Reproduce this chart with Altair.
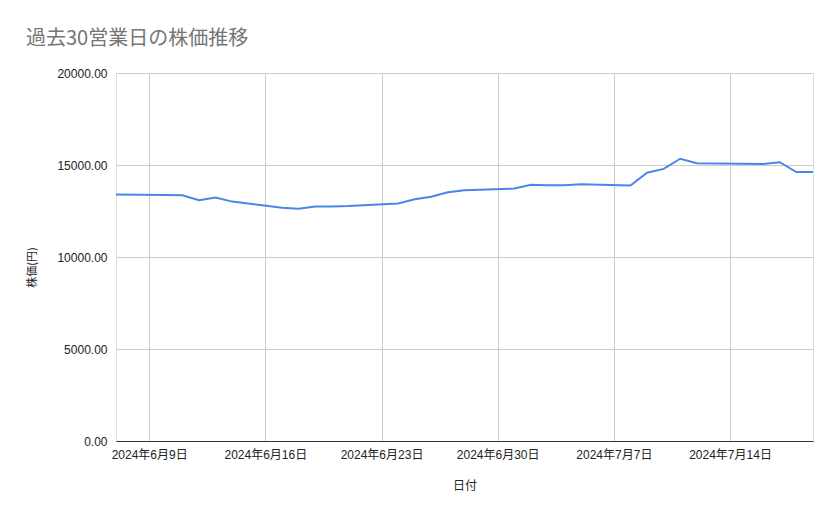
import altair as alt
import pandas as pd

dates = [
    "2024-06-07", "2024-06-10", "2024-06-11", "2024-06-12", "2024-06-13", "2024-06-14",
    "2024-06-17", "2024-06-18", "2024-06-19", "2024-06-20", "2024-06-21",
    "2024-06-24", "2024-06-25", "2024-06-26", "2024-06-27", "2024-06-28",
    "2024-07-01", "2024-07-02", "2024-07-03", "2024-07-04", "2024-07-05",
    "2024-07-08", "2024-07-09", "2024-07-10", "2024-07-11", "2024-07-12",
    "2024-07-16", "2024-07-17", "2024-07-18", "2024-07-19",
]
prices = [
    13390, 13370, 13350, 13090, 13230, 13010,
    12680, 12620, 12740, 12750, 12770,
    12910, 13140, 13280, 13520, 13630,
    13720, 13930, 13900, 13900, 13960,
    13880, 14580, 14790, 15340, 15100,
    15060, 15150, 14620, 14620,
]
tick_days = [(6, 9), (6, 16), (6, 23), (6, 30), (7, 7), (7, 14)]
y_ticks = [0, 5000, 10000, 15000, 20000]

df = pd.DataFrame({"日付": [d + "T00:00:00" for d in dates], "株価": prices})

FONT = "Liberation Sans, 'Noto Sans CJK JP', sans-serif"
CJK = "'Noto Sans CJK JP', sans-serif"

chart = (
    alt.Chart(df)
    .mark_line(color="#4a86e8", strokeWidth=2)
    .encode(
        x=alt.X(
            "日付:T",
            scale=alt.Scale(
                domain=[
                    alt.DateTime(year=2024, month=6, date=7),
                    alt.DateTime(year=2024, month=7, date=19),
                ]
            ),
            axis=alt.Axis(
                title="日付",
                values=[alt.DateTime(year=2024, month=m, date=d) for m, d in tick_days],
                format="%Y年%-m月%-d日",
                formatType="time",
                labelFont=FONT,
                labelFontSize=12,
                labelColor="#222222",
                labelPadding=8,
                ticks=False,
                domainColor="#333333",
                domainWidth=1,
                grid=True,
                gridColor="#cccccc",
                titleFont=CJK,
                titleFontSize=12,
                titleFontWeight="normal",
                titleColor="#222222",
                titlePadding=20,
            ),
        ),
        y=alt.Y(
            "株価:Q",
            scale=alt.Scale(domain=[0, 20000], nice=False),
            axis=alt.Axis(
                title="株価(円)",
                values=y_ticks,
                format=".2f",
                labelFont=FONT,
                labelFontSize=12,
                labelColor="#222222",
                labelPadding=9,
                ticks=False,
                domain=False,
                grid=True,
                gridColor="#cccccc",
                titleFont=CJK,
                titleFontSize=11,
                titleFontWeight="normal",
                titleColor="#222222",
                titleX=-84,
                titleY=194,
                titleAngle=-90,
                titleAlign="center",
                titleBaseline="middle",
            ),
        ),
    )
    .properties(
        width=697,
        height=368,
        title=alt.TitleParams(
            "過去30営業日の株価推移",
            anchor="start",
            font=CJK,
            fontSize=20,
            fontWeight="normal",
            color="#757575",
            offset=2,
            baseline="alphabetic",
        ),
        autosize=alt.AutoSizeParams(type="none"),
        padding={"left": 108, "top": 65, "right": 18, "bottom": 70},
    )
    .configure_view(stroke=None)
    .configure(background="white")
)

chart.save("out.html", embed_options={"renderer": "svg", "actions": False})
